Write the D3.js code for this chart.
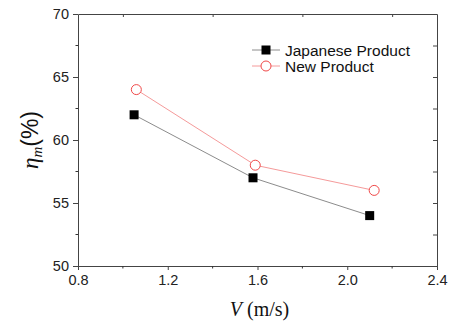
<!DOCTYPE html>
<html>
<head>
<meta charset="utf-8">
<script src="https://cdn.jsdelivr.net/npm/d3@7"></script>
<style>
  body { margin: 0; background: #fff; }
  svg text { font-family: "Liberation Sans", Arial, sans-serif; }
</style>
</head>
<body>
<svg id="chart" width="449" height="322"></svg>
<script>
// data
const seriesNames = ["Japanese Product", "New Product"];
const japaneseV = [1.05, 1.58, 2.10];
const japaneseEta = [62, 57, 54];
const newV = [1.06, 1.59, 2.12];
const newEta = [64, 58, 56];
const xTicks = [0.8, 1.2, 1.6, 2.0, 2.4];
const yTicks = [50, 55, 60, 65, 70];

const width = 449, height = 322;
const margin = { top: 14, right: 12, bottom: 56, left: 78 };

const svg = d3.select("#chart");

const x = d3.scaleLinear()
  .domain([0.8, 2.4])
  .range([margin.left, width - margin.right]);
const y = d3.scaleLinear()
  .domain([50, 70])
  .range([height - margin.bottom, margin.top]);

const xMinor = d3.range(0.8, 2.41, 0.2).filter(v => !xTicks.some(t => Math.abs(t - v) < 1e-6));
const yMinor = d3.range(50, 70.1, 2.5).filter(v => v % 5 !== 0);

// bottom axis
const gx = svg.append("g")
  .attr("transform", `translate(0,${y(50)})`)
  .call(d3.axisBottom(x).tickValues(xTicks).tickFormat(d3.format(".1f")).tickSize(4).tickSizeOuter(0).tickPadding(5));
gx.append("g").selectAll("line").data(xMinor).join("line")
  .attr("x1", d => x(d)).attr("x2", d => x(d))
  .attr("y1", 0).attr("y2", 2.5).attr("stroke", "#333");

// left axis
const gy = svg.append("g")
  .attr("transform", `translate(${x(0.8)},0)`)
  .call(d3.axisLeft(y).tickValues(yTicks).tickSize(5).tickSizeOuter(0).tickPadding(4));
gy.append("g").selectAll("line").data(yMinor).join("line")
  .attr("y1", d => y(d)).attr("y2", d => y(d))
  .attr("x1", 0).attr("x2", -2.5).attr("stroke", "#333");

// top axis (no labels)
svg.append("g")
  .attr("transform", `translate(0,${y(70)})`)
  .call(d3.axisTop(x).tickValues(xMinor).tickSize(-3).tickSizeOuter(0).tickFormat(""));

// right axis (no labels)
svg.append("g")
  .attr("transform", `translate(${x(2.4)},0)`)
  .call(d3.axisRight(y).tickValues(d3.range(52.5, 70, 2.5)).tickSize(-4).tickSizeOuter(0).tickFormat(""));

svg.selectAll(".domain").attr("stroke", "#444");
svg.selectAll(".tick line").attr("stroke", "#444");
svg.selectAll(".tick text").attr("font-size", 14.5).attr("fill", "#222");

// series
const japanese = japaneseV.map((v, i) => ({ v, eta: japaneseEta[i] }));
const newer = newV.map((v, i) => ({ v, eta: newEta[i] }));
const line = d3.line().x(d => x(d.v)).y(d => y(d.eta));

svg.append("path").datum(japanese)
  .attr("d", line).attr("fill", "none").attr("stroke", "#8c8c8c").attr("stroke-width", 1);
svg.append("path").datum(newer)
  .attr("d", line).attr("fill", "none").attr("stroke", "#f59a9a").attr("stroke-width", 1);

svg.append("g").selectAll("rect").data(japanese).join("rect")
  .attr("x", d => x(d.v) - 4.5).attr("y", d => y(d.eta) - 4.5)
  .attr("width", 9).attr("height", 9).attr("fill", "#000");
svg.append("g").selectAll("circle").data(newer).join("circle")
  .attr("cx", d => x(d.v)).attr("cy", d => y(d.eta)).attr("r", 5)
  .attr("fill", "#fff").attr("stroke", "#f04848").attr("stroke-width", 1);

// legend
const legend = svg.append("g").attr("transform", "translate(252,50)");
legend.append("line").attr("x1", 0).attr("x2", 28).attr("y1", 0).attr("y2", 0).attr("stroke", "#8c8c8c");
legend.append("rect").attr("x", 9.5).attr("y", -4.5).attr("width", 9).attr("height", 9).attr("fill", "#000");
legend.append("text").attr("x", 33).attr("y", 5.5).attr("font-size", 15.5).attr("fill", "#111").text(seriesNames[0]);
legend.append("line").attr("x1", 0).attr("x2", 28).attr("y1", 16).attr("y2", 16).attr("stroke", "#f59a9a");
legend.append("circle").attr("cx", 14).attr("cy", 16).attr("r", 5).attr("fill", "#fff").attr("stroke", "#f04848");
legend.append("text").attr("x", 33).attr("y", 21.5).attr("font-size", 15.5).attr("fill", "#111").text(seriesNames[1]);

// axis titles
const xt = svg.append("text")
  .attr("x", (x(0.8) + x(2.4)) / 2 + 2).attr("y", 316)
  .attr("text-anchor", "middle").attr("font-size", 20).attr("fill", "#111")
  .style("font-family", "'Liberation Serif', 'Times New Roman', serif");
xt.append("tspan").attr("font-style", "italic").text("V");
xt.append("tspan").text(" (m/s)");

const yt = svg.append("text")
  .attr("transform", `translate(38,${(y(50) + y(70)) / 2}) rotate(-90)`)
  .attr("text-anchor", "middle").attr("font-size", 23).attr("fill", "#111");
yt.append("tspan").attr("font-style", "italic").style("font-family", "'Liberation Serif', serif").text("η");
yt.append("tspan").attr("font-style", "italic").attr("font-size", 15).attr("dy", 4)
  .style("font-family", "'Liberation Serif', serif").text("m");
yt.append("tspan").attr("dy", -4).text("(%)");
</script>
</body>
</html>
